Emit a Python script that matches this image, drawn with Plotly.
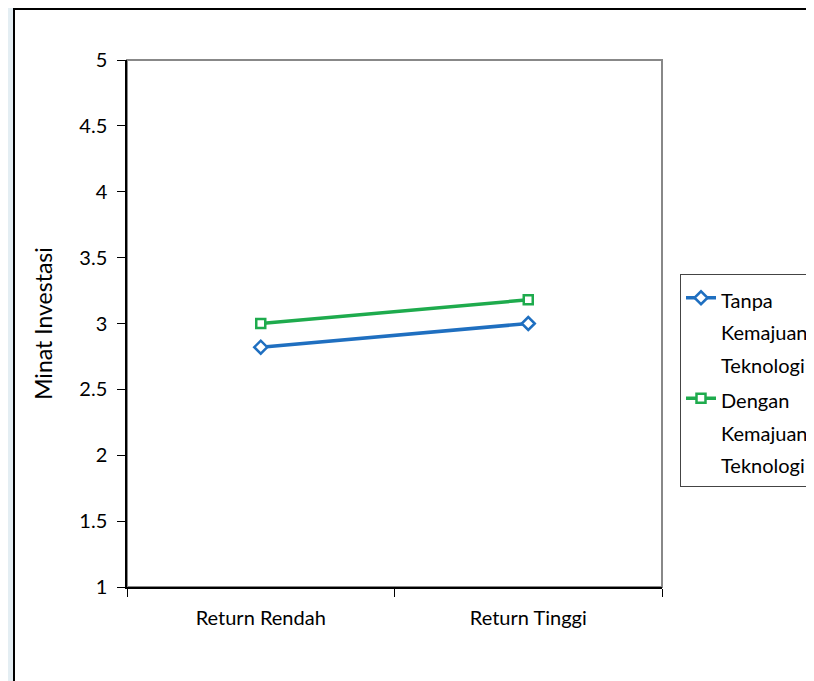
import plotly.graph_objects as go

# categories and values
categories = ['Return Rendah', 'Return Tinggi']
series_names = [['Tanpa', 'Kemajuan', 'Teknologi'],
                ['Dengan', 'Kemajuan', 'Teknologi']]
tanpa = [2.82, 3.0]
dengan = [3.0, 3.18]
y_ticks = [1, 1.5, 2, 2.5, 3, 3.5, 4, 4.5, 5]
y_tick_labels = ['1', '1.5', '2', '2.5', '3', '3.5', '4', '4.5', '5']

FONT = 'Lato'
BLUE = '#1f6fc0'
GREEN = '#1eab4d'
OFF = 8  # page body margin

# plot area on the page: x 127..662, y 60..587
W, H = 814 - OFF, 681 - OFF
L, T = 127 - OFF, 60 - OFF
R, B = W - (662 - OFF), H - (587 - OFF)
pw, ph = W - L - R, H - T - B


def px_x(v):
    return (v - OFF - L) / pw


def px_y(v):
    return (H - B - (v - OFF)) / ph


def legend_name(lines):
    return '<br>'.join("<span style='font-size:20px'>%s</span>" % s for s in lines)


fig = go.Figure(
    data=[
        go.Scatter(
            name=legend_name(series_names[0]),
            x=categories, y=tanpa,
            mode='lines+markers',
            line=dict(color=BLUE, width=3.5),
            marker=dict(symbol='diamond', size=10, color='white',
                        line=dict(color=BLUE, width=2.5))),
        go.Scatter(
            name=legend_name(series_names[1]),
            x=categories, y=dengan,
            mode='lines+markers',
            line=dict(color=GREEN, width=3.5),
            marker=dict(symbol='square', size=9, color='white',
                        line=dict(color=GREEN, width=2.5))),
    ]
)

fig.update_layout(
    width=W, height=H,
    margin=dict(l=L, r=R, t=T, b=B, autoexpand=False),
    paper_bgcolor='#e4eef3',
    plot_bgcolor='white',
    font=dict(family=FONT, size=20, color='black'),
    showlegend=True,
    legend=dict(
        x=px_x(680), xanchor='left',
        y=px_y(274), yanchor='top',
        bgcolor='white', bordercolor='#444', borderwidth=1,
        font=dict(family=FONT, size=25, color='black'),
        valign='top', tracegroupgap=0, itemwidth=30),
    shapes=[
        # white chart area with black frame (left and top edges visible)
        dict(type='rect', xref='paper', yref='paper', layer='below',
             x0=px_x(14), x1=px_x(840), y0=px_y(720), y1=px_y(9),
             fillcolor='white', line=dict(color='black', width=2)),
        # plot border
        dict(type='rect', xref='paper', yref='paper', layer='below',
             x0=0, x1=1, y0=0, y1=1,
             line=dict(color='#888', width=2)),
    ],
)

fig.update_xaxes(
    type='category', range=[-0.5, 1.5],
    tickson='boundaries', ticks='outside', ticklen=8, tickcolor='black',
    showline=True, linecolor='black', linewidth=1.5,
    showgrid=False, zeroline=False, ticklabelstandoff=12,
    tickfont=dict(family=FONT, size=20))

fig.update_yaxes(
    range=[1, 5], tickvals=y_ticks, ticktext=y_tick_labels,
    ticks='outside', ticklen=8, tickcolor='black',
    showline=True, linecolor='black', linewidth=1.5,
    showgrid=False, zeroline=False, ticklabelstandoff=6,
    tickfont=dict(family=FONT, size=20),
    title=dict(text='Minat Investasi', standoff=20,
               font=dict(family=FONT, size=23)))

fig.write_html('out.html')
